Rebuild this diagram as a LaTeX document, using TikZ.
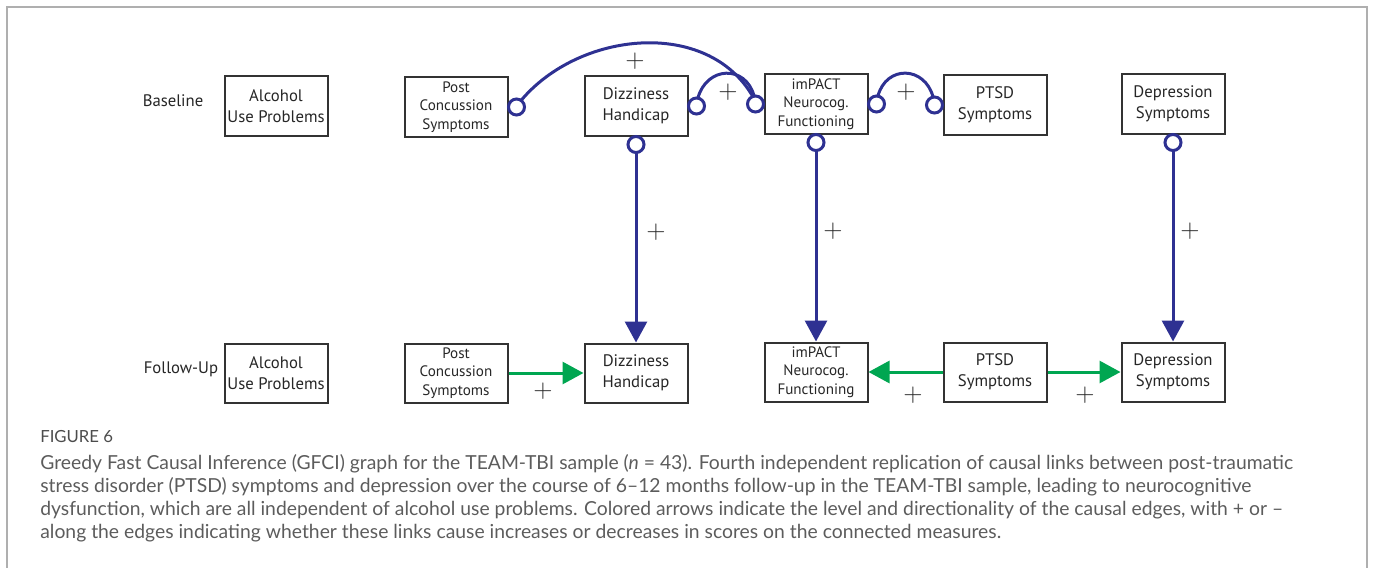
\documentclass[tikz,border=0pt]{standalone}
\usepackage{fontspec}
\setmainfont{PT Sans}
\newfontfamily\capfont[Ligatures=TeX]{Lato}
\usetikzlibrary{arrows.meta}
\definecolor{gfciblue}{HTML}{2E3192}
\definecolor{gfcigreen}{HTML}{00A651}
\definecolor{capgrey}{HTML}{5C5C5C}
\definecolor{framegrey}{HTML}{AFAFAF}
\tikzset{
  var/.style={draw=black!80, line width=0.4mm, minimum width=20.6mm, minimum height=11.8mm,
    inner sep=0pt, align=center, text=black!85, font=\fontsize{9.5}{12}\selectfont},
  small/.style={font=\fontsize{8.6}{10.5}\selectfont},
  ring/.style={circle, draw=gfciblue, line width=0.6mm, fill=white, minimum size=3.2mm,
    inner sep=0pt, outer sep=0pt},
  edge/.style={draw=gfciblue, line width=0.6mm},
  push/.style={draw=gfcigreen, line width=0.6mm},
  cause/.style={-{Triangle[length=4.2mm,width=4.4mm]}},
  sign/.style={text=black!85, font=\fontsize{14}{14}\selectfont},
  wave/.style={text=black!85, font=\fontsize{9.5}{12}\selectfont},
  capline/.style={anchor=base west, inner sep=0pt, text=capgrey, font=\capfont\fontsize{11}{13}\selectfont}
}
\begin{document}
\begin{tikzpicture}[x=0.2mm, y=0.2mm]
  \useasboundingbox (0,0) rectangle (1373,-568);
  \draw[framegrey, line width=0.3mm] (7,-568) -- (7,-7) -- (1367,-7) -- (1367,-568);

  \node[wave] (base) at (173,-101) {Baseline};
  \node[wave] (fup) at (181,-369) {Follow-Up};

  \node[var] (alcB) at (276,-106) {Alcohol\\Use Problems};
  \node[var,small] (pcsB) at (456,-107) {Post\\Concussion\\Symptoms};
  \node[var] (dizB) at (636,-106) {Dizziness\\Handicap};
  \node[var,small] (impB) at (816,-104) {imPACT\\Neurocog.\\Functioning};
  \node[var] (ptsdB) at (995,-105) {PTSD\\Symptoms};
  \node[var] (depB) at (1173,-104) {Depression\\Symptoms};

  \node[var] (alcF) at (276,-373) {Alcohol\\Use Problems};
  \node[var,small] (pcsF) at (456,-373) {Post\\Concussion\\Symptoms};
  \node[var] (dizF) at (636,-373) {Dizziness\\Handicap};
  \node[var,small] (impF) at (816,-372) {imPACT\\Neurocog.\\Functioning};
  \node[var] (ptsdF) at (995,-372) {PTSD\\Symptoms};
  \node[var] (depF) at (1173,-372) {Depression\\Symptoms};

  \node[ring,anchor=west] (pcsR) at (pcsB.east) {};
  \node[ring,anchor=west] (dizR) at (dizB.east) {};
  \node[ring,anchor=north] (dizD) at (dizB.south) {};
  \node[ring,anchor=east] (impL) at (impB.west) {};
  \node[ring,anchor=west] (impR) at (impB.east) {};
  \node[ring,anchor=north] (impD) at (impB.south) {};
  \node[ring,anchor=east] (ptsdL) at (ptsdB.west) {};
  \node[ring,anchor=north] (depD) at (depB.south) {};

  \draw[edge] (pcsR.55) to[out=50,in=120] (impL.110);
  \draw[edge] (dizR.80) to[out=75,in=105,looseness=1.5] (impL.100);
  \draw[edge] (impR.80) to[out=75,in=105,looseness=1.5] (ptsdL.100);
  \draw[edge,cause] (dizD) -- (dizF);
  \draw[edge,cause] (impD) -- (impF);
  \draw[edge,cause] (depD) -- (depF);
  \draw[push,cause] (pcsF) -- (dizF);
  \draw[push,cause] (ptsdF) -- (impF);
  \draw[push,cause] (ptsdF) -- (depF);

  \node[sign] (s1) at (635,-61) {$+$};
  \node[sign] (s2) at (728,-92) {$+$};
  \node[sign] (s3) at (906,-92) {$+$};
  \node[sign] (s4) at (656,-232) {$+$};
  \node[sign] (s5) at (833,-231) {$+$};
  \node[sign] (s6) at (1190,-231) {$+$};
  \node[sign] (s7) at (543,-391) {$+$};
  \node[sign] (s8) at (913,-395) {$+$};
  \node[sign] (s9) at (1085,-395) {$+$};

  \node[capline, text=black!70, font=\capfont\fontsize{9.5}{11}\selectfont] (fig) at (40,-442) {FIGURE 6};
  \node[capline] (cap1) at (40,-469) {Greedy Fast Causal Inference (GFCI) graph for the TEAM-TBI sample (\textit{n} = 43). Fourth independent replication of causal links between post-traumatic};
  \node[capline] (cap2) at (40,-492) {stress disorder (PTSD) symptoms and depression over the course of 6–12 months follow-up in the TEAM-TBI sample, leading to neurocognitive};
  \node[capline] (cap3) at (40,-515) {dysfunction, which are all independent of alcohol use problems. Colored arrows indicate the level and directionality of the causal edges, with + or –};
  \node[capline] (cap4) at (40,-538) {along the edges indicating whether these links cause increases or decreases in scores on the connected measures.};
\end{tikzpicture}
\end{document}
